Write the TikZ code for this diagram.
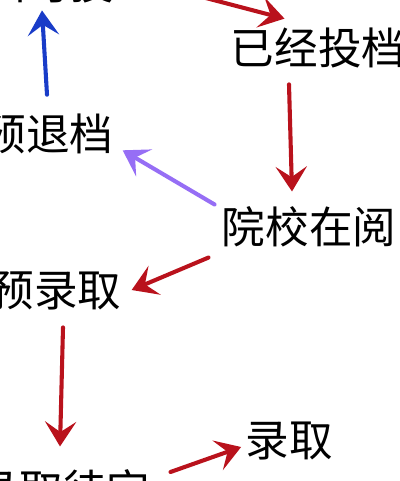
\documentclass[tikz,border=0pt]{standalone}
\usepackage{fontspec}
\newfontfamily\cjk{Noto Sans CJK SC}
\usetikzlibrary{arrows.meta,calc}
\definecolor{flowred}{RGB}{185, 18, 28}
\definecolor{flowblue}{RGB}{25, 60, 200}
\definecolor{flowpurple}{RGB}{150, 110, 245}

\begin{document}
\begin{tikzpicture}[x=0.025cm, y=-0.025cm,
    lbl/.style={inner sep=0pt, font=\cjk\fontsize{31}{31}\selectfont},
    arr/.style={line width=2.9pt, line cap=round, -{Stealth[length=0.62cm, width=0.78cm, inset=0.26cm]}}]
    \useasboundingbox (0,0) rectangle (400,481);
    % 投档状态流程
    \node[lbl] (ziyou) at (27,-17) {自由可投};
    \node[lbl] (yijing) at (318,48) {已经投档};
    \node[lbl] (tuidang) at (48,134) {预退档};
    \node[lbl] (zaiyue) at (309,227) {院校在阅};
    \node[lbl] (yulu) at (56,291) {预录取};
    \node[lbl] (daiding) at (63,490) {录取待定};
    \node[lbl] (luqu) at (289,441) {录取};

    \draw[arr, flowred] ($(ziyou.east)+(80,12)$) -- ($(yijing.north west)+(54,-9)$);
    \draw[arr, flowblue] ($(tuidang.north)+(-1,-19)$) -- ($(ziyou.south)+(15,7)$);
    \draw[arr, flowred] ($(yijing.south)+(-29,16)$) -- ($(zaiyue.north)+(-17,-15)$);
    \draw[arr, flowpurple] ($(zaiyue.north west)+(-7,-2)$) -- ($(tuidang.south east)+(9,-4)$);
    \draw[arr, flowred] ($(zaiyue.south west)+(-13,10)$) -- ($(yulu.east)+(10,-1)$);
    \draw[arr, flowred] ($(yulu.south)+(7,17)$) -- ($(daiding.north)+(-3,-23)$);
    \draw[arr, flowred] ($(daiding.east)+(20,-18)$) -- ($(luqu.west)+(-4,6)$);
\end{tikzpicture}
\end{document}
